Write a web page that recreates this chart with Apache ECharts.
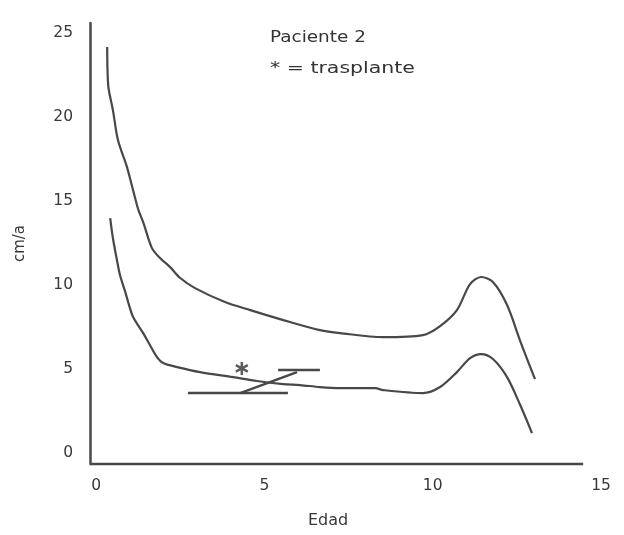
<!DOCTYPE html>
<html>
<head>
<meta charset="utf-8">
<script src="https://cdn.jsdelivr.net/npm/echarts@6/dist/echarts.min.js"></script>
<style>
  html, body { margin: 0; padding: 0; background: #ffffff; }
  #chart { width: 624px; height: 535px; }
</style>
</head>
<body>
<div id="chart"></div>
<script>
// Growth velocity reference curves (cm/year against age in years)
const upperAge = [0.33, 0.34, 0.37, 0.5, 0.65, 0.91, 1.1, 1.26, 1.4, 1.66, 1.9, 2.2, 2.5, 2.94, 3.83, 4.58, 5.76, 6.65, 7.25, 8.53, 9.71, 10.22, 10.72, 11.11, 11.44, 11.79, 12.21, 12.6, 13.04];
const upperVel = [24.17, 22.8, 21.73, 20.42, 18.63, 17.08, 15.65, 14.46, 13.75, 12.2, 11.61, 11.07, 10.42, 9.82, 8.99, 8.51, 7.8, 7.32, 7.14, 6.9, 7.02, 7.56, 8.51, 10.06, 10.48, 10.18, 8.81, 6.67, 4.4];

const lowerAge = [0.42, 0.5, 0.62, 0.71, 0.86, 0.98, 1.1, 1.4, 1.6, 1.81, 1.99, 2.41, 3.09, 4.07, 4.78, 5.56, 6.06, 6.65, 7.25, 8.29, 8.53, 9.71, 10.22, 10.72, 11.11, 11.44, 11.79, 12.21, 12.6, 12.95];
const lowerVel = [13.99, 12.8, 11.49, 10.6, 9.64, 8.81, 8.1, 7.14, 6.43, 5.71, 5.36, 5.12, 4.82, 4.52, 4.29, 4.11, 4.05, 3.93, 3.87, 3.87, 3.75, 3.57, 3.93, 4.82, 5.65, 5.89, 5.6, 4.52, 2.86, 1.19];

// Patient 2: measured velocity segments (start and end point of each)
const patientStart = [[2.73, 3.57], [4.28, 3.57], [5.41, 4.97]];
const patientEnd   = [[5.70, 3.57], [5.97, 4.82], [6.65, 4.97]];

// Transplant marker
const transplant = [[4.33, 5.04]];

// Axis ranges and tick labels
const xMin = -0.18, xMax = 15, xLineEnd = 14.47;
const yMin = -0.65, yMax = 25.6;
const xTicks = [0, 5, 10, 15];
const yTicks = [0, 5, 10, 15, 20, 25];

const ink = '#484848';
const textInk = '#383838';
const font = '"DejaVu Sans", "Liberation Sans", sans-serif';

const zip = (xs, ys) => xs.map((x, i) => [x, ys[i]]);

const chart = echarts.init(document.getElementById('chart'), null, { renderer: 'canvas' });

chart.setOption({
  backgroundColor: '#ffffff',
  animation: false,
  grid: { left: 90, right: 23, top: 23, bottom: 71, containLabel: false },
  xAxis: {
    type: 'value',
    min: xMin,
    max: xMax,
    name: 'Edad',
    nameLocation: 'middle',
    nameGap: 49,
    nameTextStyle: { color: textInk, fontSize: 16, fontFamily: font, padding: [0, 35, 0, 0] },
    axisLine: { show: false },
    axisTick: { show: false },
    splitLine: { show: false },
    axisLabel: {
      customValues: xTicks,
      margin: 14,
      color: textInk,
      fontSize: 15.5,
      fontFamily: font
    }
  },
  yAxis: {
    type: 'value',
    min: yMin,
    max: yMax,
    name: 'cm/a',
    nameLocation: 'middle',
    nameGap: 62,
    nameTextStyle: { color: textInk, fontSize: 15, fontFamily: font },
    axisLine: { show: true, onZero: false, lineStyle: { color: ink, width: 2.5 } },
    axisTick: { show: false },
    splitLine: { show: false },
    axisLabel: {
      customValues: yTicks,
      margin: 17,
      color: textInk,
      fontSize: 15.5,
      fontFamily: font
    }
  },
  graphic: [
    {
      type: 'text',
      x: 270, y: 30,
      scaleX: 1.15,
      style: { text: 'Paciente 2', fill: '#333333', font: '16px ' + font }
    },
    {
      type: 'text',
      x: 270, y: 61,
      scaleX: 1.28,
      style: { text: '* = trasplante', fill: '#333333', font: '16px ' + font }
    }
  ],
  series: [
    {
      // horizontal axis baseline, which stops short of the last tick
      type: 'line',
      data: [[xMin, yMin], [xLineEnd, yMin]],
      symbol: 'none',
      clip: false,
      silent: true,
      lineStyle: { color: ink, width: 2.5 }
    },
    {
      name: 'upper',
      type: 'line',
      data: zip(upperAge, upperVel),
      symbol: 'none',
      smooth: 0.3,
      lineStyle: { color: ink, width: 2.2 }
    },
    {
      name: 'lower',
      type: 'line',
      data: zip(lowerAge, lowerVel),
      symbol: 'none',
      smooth: 0.3,
      lineStyle: { color: ink, width: 2.2 }
    },
    {
      name: 'Paciente 2',
      type: 'lines',
      coordinateSystem: 'cartesian2d',
      data: patientStart.map((p, i) => ({ coords: [p, patientEnd[i]] })),
      lineStyle: { color: ink, width: 2.4, opacity: 1 }
    },
    {
      name: 'trasplante',
      type: 'scatter',
      data: transplant,
      symbol: 'path://M5,0 L5,10 M0.7,2.5 L9.3,7.5 M0.7,7.5 L9.3,2.5',
      symbolSize: [12, 13],
      itemStyle: { color: 'transparent', borderColor: '#333333', borderWidth: 2.6 }
    }
  ]
});
</script>
</body>
</html>
